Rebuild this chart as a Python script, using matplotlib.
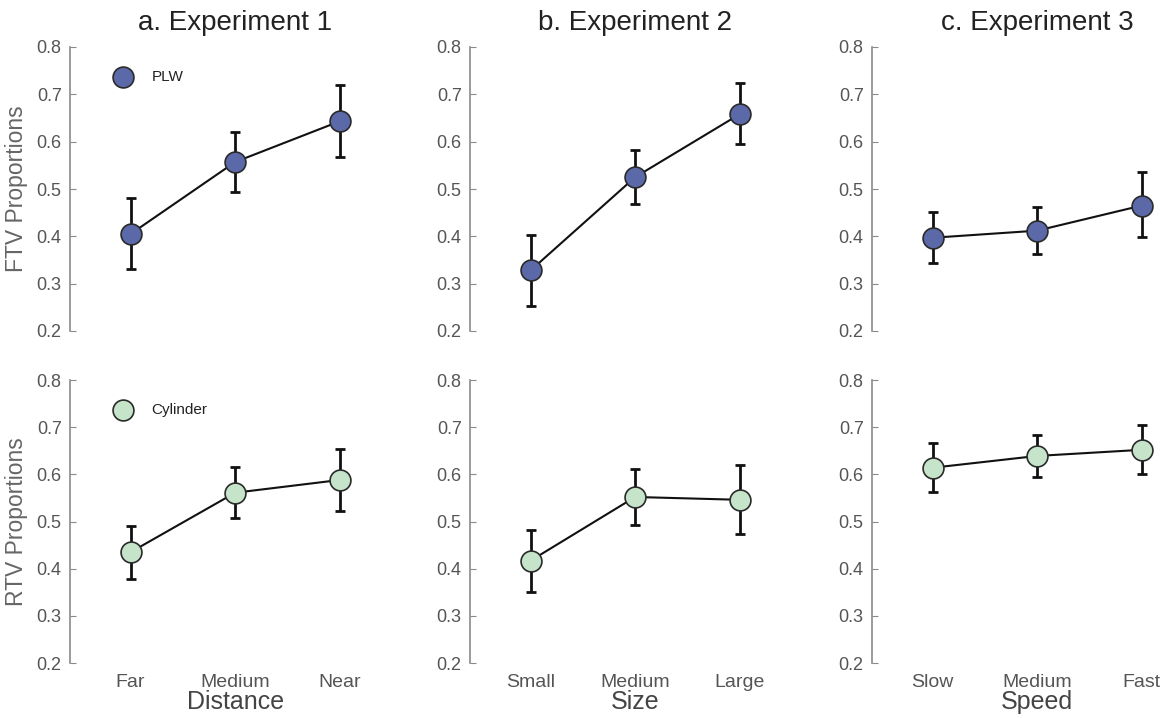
import matplotlib
matplotlib.use("Agg")
import matplotlib.pyplot as plt
import numpy as np

plt.rcParams['font.family'] = ['Liberation Sans', 'DejaVu Sans']

titles = ["a. Experiment 1", "b. Experiment 2", "c. Experiment 3"]
xlabels = ["Distance", "Size", "Speed"]
categories = [["Far", "Medium", "Near"], ["Small", "Medium", "Large"], ["Slow", "Medium", "Fast"]]
row_labels = ["FTV Proportions", "RTV Proportions"]
legend_names = ["PLW", "Cylinder"]

# PLW (FTV) means and error bounds
plw_mean = [[0.405, 0.557, 0.643], [0.328, 0.525, 0.658], [0.397, 0.412, 0.465]]
plw_low = [[0.330, 0.493, 0.567], [0.253, 0.468, 0.595], [0.343, 0.363, 0.398]]
plw_high = [[0.482, 0.621, 0.720], [0.403, 0.583, 0.723], [0.451, 0.461, 0.535]]

# Cylinder (RTV) means and error bounds
cyl_mean = [[0.435, 0.561, 0.588], [0.417, 0.552, 0.546], [0.614, 0.639, 0.652]]
cyl_low = [[0.378, 0.507, 0.522], [0.351, 0.493, 0.474], [0.562, 0.594, 0.601]]
cyl_high = [[0.490, 0.615, 0.653], [0.483, 0.611, 0.620], [0.667, 0.684, 0.704]]

colors = ["#5b69a8", "#c6e4c9"]
data = [(plw_mean, plw_low, plw_high), (cyl_mean, cyl_low, cyl_high)]

fig = plt.figure(figsize=(11.75, 7.18), dpi=100)
W, H = 1175, 718
lefts = [70, 470, 872]
width_px = 301
rows = [(47, 331), (380, 663)]
XMIN, XMAX = 0.42, 3.3
center_frac = (2 - XMIN) / (XMAX - XMIN)

for r in range(2):
    means, lows, highs = data[r]
    top_px, bot_px = rows[r]
    for c in range(3):
        ax = fig.add_axes([lefts[c] / W, 1 - bot_px / H, width_px / W, (bot_px - top_px) / H])
        x = np.arange(1, 4)
        m = np.array(means[c]); lo = np.array(lows[c]); hi = np.array(highs[c])
        ax.errorbar(x, m, yerr=[m - lo, hi - m], fmt='none', ecolor='#111111',
                    elinewidth=2, capsize=3.5, capthick=2, zorder=2)
        ax.plot(x, m, color='#111111', lw=1.5, zorder=3)
        ax.plot(x, m, 'o', ms=15, mfc=colors[r], mec='#2a2a2a', mew=1.2, zorder=4)
        ax.set_xlim(XMIN, XMAX)
        ax.set_ylim(0.2, 0.8)
        ax.set_yticks([0.2, 0.3, 0.4, 0.5, 0.6, 0.7, 0.8])
        ax.set_yticklabels(["0.2", "0.3", "0.4", "0.5", "0.6", "0.7", "0.8"])
        for s in ['top', 'right', 'bottom']:
            ax.spines[s].set_visible(False)
        ax.spines['left'].set_color('#8a8a8a')
        ax.spines['left'].set_linewidth(1.2)
        ax.tick_params(axis='y', direction='in', length=4, color='#8a8a8a',
                       labelsize=13, labelcolor='#555555', pad=6)
        if r == 1:
            ax.set_xticks(x)
            ax.set_xticklabels(categories[c])
            ax.tick_params(axis='x', length=0, labelsize=14, labelcolor='#555555', pad=8)
            ax.set_xlabel(xlabels[c], fontsize=18, color='#444444', labelpad=0)
            ax.xaxis.set_label_coords(center_frac, -0.095)
        else:
            ax.set_xticks([])
            ax.set_title(titles[c], fontsize=20, color='#222222', pad=12, x=center_frac)
        if c == 0:
            ax.set_ylabel(row_labels[r], fontsize=16.5, color='#666666', labelpad=6)
            ly = 0.737
            ax.plot([0.93], [ly], 'o', ms=15, mfc=colors[r], mec='#2a2a2a', mew=1.2)
            ax.text(1.2, ly, legend_names[r], fontsize=11, color='#222222', va='center')

fig.savefig("out.png", dpi=100)
